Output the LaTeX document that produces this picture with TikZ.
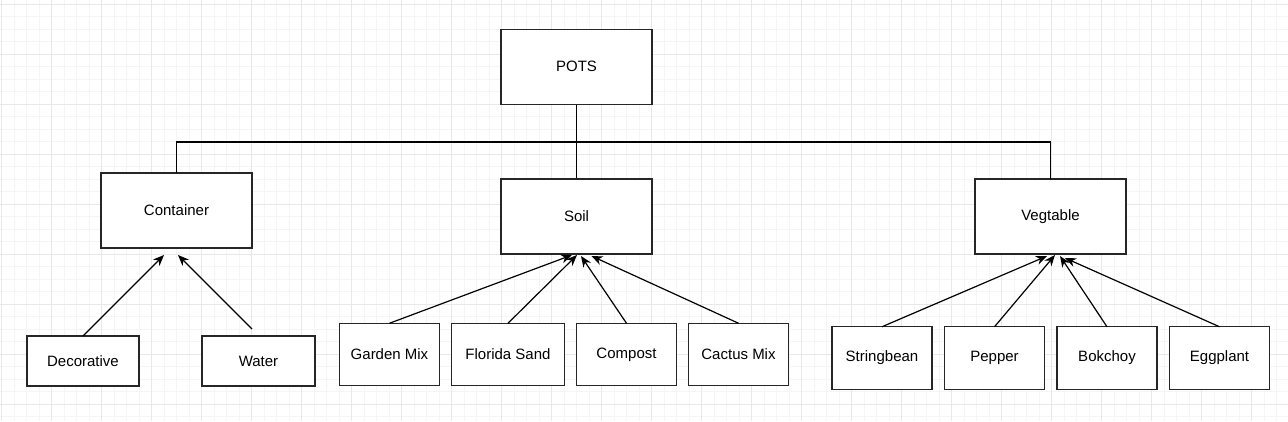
\documentclass[tikz,border=0pt]{standalone}
\usepackage{fontspec}
\setmainfont{Liberation Sans}
\usetikzlibrary{arrows.meta,positioning}

\tikzset{
  minorgrid/.style={draw=black!4,line width=0.8pt},
  majorgrid/.style={draw=black!9,line width=0.8pt},
  topbox/.style={draw=black!85,line width=1.2pt,fill=white,minimum width=151pt,minimum height=75pt,inner sep=0pt,outer sep=0pt},
  leafbox/.style={draw=black!85,line width=1.2pt,fill=white,minimum width=100pt,minimum height=62.5pt,inner sep=0pt,outer sep=0pt},
  link/.style={draw=black,line width=1.2pt},
}

\begin{document}
\begin{tikzpicture}[x=1pt,y=-1pt,>={Stealth[length=11pt,width=9pt,inset=3.5pt]},font=\fontsize{15pt}{18pt}\selectfont]
        % background grid
        \useasboundingbox (0,0) rectangle (1288,421);
        \fill[white] (0,0) rectangle (1288,421);
        \foreach \i in {0,...,103} \draw[minorgrid] ({1.5+12.5*\i},0) -- ({1.5+12.5*\i},421);
        \foreach \i in {0,...,33} \draw[minorgrid] (0,{4.3+12.5*\i}) -- (1288,{4.3+12.5*\i});
        \foreach \i in {0,...,25} \draw[majorgrid] ({1.5+50*\i},0) -- ({1.5+50*\i},421);
        \foreach \i in {0,...,8} \draw[majorgrid] (0,{4.3+50*\i}) -- (1288,{4.3+50*\i});

        % tree lines
        \coordinate (bus) at (576.5,142);
        \node[topbox]  (pots)  at (576.5,66.7)  {POTS};
        \node[topbox]  (cont)  at (176.5,210.5) {Container};
        \node[topbox]  (soil)  at (576.5,216.5) {Soil};
        \node[topbox]  (veg)   at (1050.5,216.5) {Vegtable};
        \draw[link] (pots) -- (soil);
        \draw[link] (cont.north) |- (bus) -| (veg.north);
        \node[topbox]  at (pots) {POTS};
        \node[topbox]  at (soil) {Soil};

        % container leaves
        \node[leafbox,minimum width=112pt,minimum height=50pt] (deco)  at (83,361)    {Decorative};
        \node[leafbox,minimum width=113pt,minimum height=50pt] (water) at (258.5,361)  {Water};

        % soil leaves
        \node[leafbox] (garden)  at (389.5,354.5)          {Garden Mix};
        \node[leafbox,minimum width=113pt] (florida) [right=12pt of garden]  {Florida Sand};
        \node[leafbox] (compost) [right=12pt of florida]   {Compost};
        \node[leafbox] (cactus)  [right=12pt of compost]   {Cactus Mix};

        % vegetable leaves
        \node[leafbox] (bean)     at (882,358)             {Stringbean};
        \node[leafbox] (pepper)   [right=12.5pt of bean]   {Pepper};
        \node[leafbox] (bokchoy)  [right=12.5pt of pepper] {Bokchoy};
        \node[leafbox] (eggplant) [right=12.5pt of bokchoy] {Eggplant};

        \path[link] (deco.north)                    edge[->] ([xshift=-12.5pt,yshift=-7pt]cont.south)
                    ([xshift=-6.5pt,yshift=7pt]water.north) edge[->] ([xshift=1.5pt,yshift=-7pt]cont.south)
                    (garden.north)                  edge[->] ([xshift=-4.5pt,yshift=-1pt]soil.south)
                    (florida.north)                 edge[->] ([xshift=0.5pt,yshift=-1pt]soil.south)
                    (compost.north)                 edge[->] ([xshift=4.5pt,yshift=-2pt]soil.south)
                    (cactus.north)                  edge[->] ([xshift=15pt,yshift=-2pt]soil.south)
                    (bean.north)                    edge[->] ([xshift=-3.5pt,yshift=-2pt]veg.south)
                    (pepper.north)                  edge[->] ([xshift=4.5pt,yshift=-1pt]veg.south)
                    (bokchoy.north)                 edge[->] ([xshift=9.5pt,yshift=-2pt]veg.south)
                    (eggplant.north)                edge[->] ([xshift=14.5pt,yshift=-4pt]veg.south);
\end{tikzpicture}
\end{document}
